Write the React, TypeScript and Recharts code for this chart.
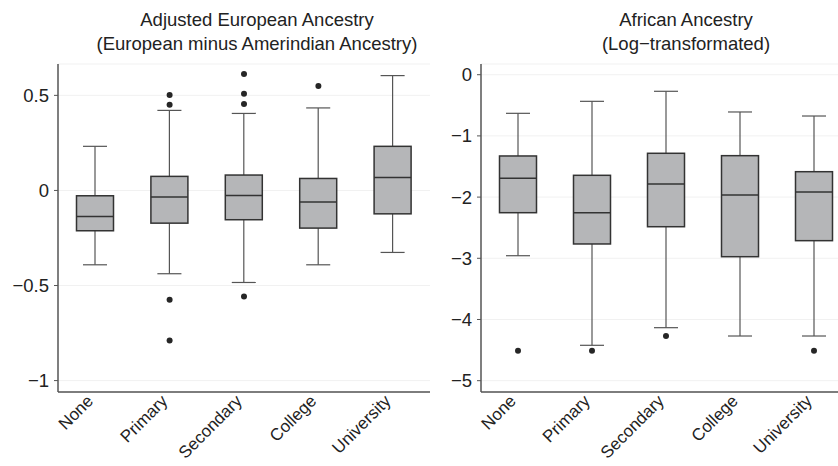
import { Bar, CartesianGrid, ComposedChart, Scatter, XAxis, YAxis } from 'recharts'

const categories = ['None', 'Primary', 'Secondary', 'College', 'University']

// Adjusted European ancestry (European minus Amerindian)
const euMin = [-0.391, -0.438, -0.484, -0.391, -0.326]
const euQ1 = [-0.212, -0.172, -0.154, -0.198, -0.123]
const euMedian = [-0.137, -0.035, -0.026, -0.061, 0.068]
const euQ3 = [-0.028, 0.074, 0.081, 0.063, 0.232]
const euMax = [0.232, 0.421, 0.405, 0.434, 0.604]
const euOutliers = [[], [0.502, 0.451, -0.575, -0.789], [0.613, 0.509, 0.455, -0.558], [0.549], []]
const euTicks = [-1, -0.5, 0, 0.5]

// African ancestry (log-transformed)
const afMin = [-2.958, -4.422, -4.134, -4.27, -4.27]
const afQ1 = [-2.255, -2.766, -2.484, -2.974, -2.712]
const afMedian = [-1.693, -2.255, -1.786, -1.966, -1.917]
const afQ3 = [-1.328, -1.644, -1.284, -1.323, -1.585]
const afMax = [-0.631, -0.435, -0.271, -0.609, -0.675]
const afOutliers = [[-4.51], [-4.51], [-4.27], [], [-4.51]]
const afTicks = [-5, -4, -3, -2, -1, 0]

const FONT = '"Liberation Sans", Arial, Helvetica, sans-serif'
const TEXT = '#222222'
const SIZE = 18.5

const buildBoxes = (min: number[], q1: number[], med: number[], q3: number[], max: number[]) =>
    categories.map((cat, i) => ({
        cat,
        range: [min[i], max[i]],
        min: min[i],
        q1: q1[i],
        med: med[i],
        q3: q3[i],
        max: max[i]
    }))

const buildOutliers = (outliers: number[][]) =>
    categories.flatMap((cat, i) => outliers[i].map((v) => ({ cat, v })))

const fmt = (v: number) => String(v).replace('-', '\u2212')

// draws whiskers + box inside the pixel span the library gives for [min, max]
const BoxShape = (props: any) => {
    const { x, y, width, height, payload } = props
    const top = Math.min(y, y + height)
    const bottom = Math.max(y, y + height)
    const ppu = (bottom - top) / (payload.max - payload.min)
    const py = (v: number) => bottom - (v - payload.min) * ppu
    const cx = x + width / 2
    const boxW = width * 0.5
    const capW = width * 0.325
    return (
        <g>
            <line x1={cx} x2={cx} y1={py(payload.max)} y2={py(payload.q3)} stroke="#555" strokeWidth={1.2} />
            <line x1={cx} x2={cx} y1={py(payload.q1)} y2={py(payload.min)} stroke="#555" strokeWidth={1.2} />
            <line x1={cx - capW / 2} x2={cx + capW / 2} y1={py(payload.max)} y2={py(payload.max)} stroke="#555" strokeWidth={1.2} />
            <line x1={cx - capW / 2} x2={cx + capW / 2} y1={py(payload.min)} y2={py(payload.min)} stroke="#555" strokeWidth={1.2} />
            <rect x={cx - boxW / 2} y={py(payload.q3)} width={boxW} height={py(payload.q1) - py(payload.q3)}
                fill="#b5b6b8" stroke="#333" strokeWidth={1.5} />
            <line x1={cx - boxW / 2} x2={cx + boxW / 2} y1={py(payload.med)} y2={py(payload.med)} stroke="#333" strokeWidth={1.5} />
        </g>
    )
}

const Dot = (props: any) => <circle cx={props.cx} cy={props.cy} r={3} fill="#262626" />

const CatTick = (props: any) => {
    const { x, y, payload } = props
    const ax = x - 1
    const ay = y + 8
    return (
        <text x={ax} y={ay} transform={`rotate(-45, ${ax}, ${ay})`} textAnchor="end"
            fontSize={17} fontFamily={FONT} fill={TEXT}>
            {payload.value}
        </text>
    )
}

const ValueTick = (props: any) => {
    const { x, y, payload } = props
    return (
        <text x={x} y={y} dy={6.5} textAnchor="end" fontSize={SIZE} fontFamily={FONT} fill={TEXT}>
            {fmt(payload.value)}
        </text>
    )
}

function Panel({ boxes, points, domain, ticks, axisWidth }: {
    boxes: ReturnType<typeof buildBoxes>
    points: { cat: string, v: number }[]
    domain: [number, number]
    ticks: number[]
    axisWidth: number
}) {
    return (
        <ComposedChart width={430} height={466} data={boxes} barCategoryGap="0%"
            margin={{ top: 64, right: 0, bottom: 0, left: 0 }}>
            <CartesianGrid vertical={false} stroke="#f1f1f1" />
            <XAxis dataKey="cat" type="category" allowDuplicatedCategory={false} height={74}
                axisLine={{ stroke: '#555', strokeWidth: 1.5 }} tickLine={false} tickSize={0}
                interval={0} tick={<CatTick />} />
            <YAxis type="number" domain={domain} ticks={ticks} allowDataOverflow width={axisWidth}
                axisLine={{ stroke: '#555', strokeWidth: 1.5 }} tickLine={{ stroke: '#555' }}
                tickSize={4} tickMargin={5} tick={<ValueTick />} />
            <Bar dataKey="range" shape={<BoxShape />} isAnimationActive={false} />
            <Scatter data={points} dataKey="v" shape={<Dot />} isAnimationActive={false} />
        </ComposedChart>
    )
}

const titleStyle = (center: number): React.CSSProperties => ({
    position: 'absolute',
    top: 8,
    left: center - 220,
    width: 440,
    textAlign: 'center',
    fontFamily: FONT,
    fontSize: SIZE,
    lineHeight: '23.5px',
    color: TEXT
})

export default function App() {
    return (
        <div style={{ position: 'absolute', left: 0, top: 0, width: 838, height: 466, overflow: 'hidden', background: '#fff' }}>
            <div style={{ position: 'absolute', left: 0, top: 0 }}>
                <Panel boxes={buildBoxes(euMin, euQ1, euMedian, euQ3, euMax)} points={buildOutliers(euOutliers)}
                    domain={[-1.06, 0.665]} ticks={euTicks} axisWidth={58} />
            </div>
            <div style={{ position: 'absolute', left: 421, top: 0 }}>
                <Panel boxes={buildBoxes(afMin, afQ1, afMedian, afQ3, afMax)} points={buildOutliers(afOutliers)}
                    domain={[-5.185, 0.175]} ticks={afTicks} axisWidth={60} />
            </div>
            <div style={titleStyle(257)}>
                Adjusted European Ancestry<br />(European minus Amerindian Ancestry)
            </div>
            <div style={titleStyle(686)}>
                African Ancestry<br />(Log{'\u2212'}transformated)
            </div>
        </div>
    )
}
